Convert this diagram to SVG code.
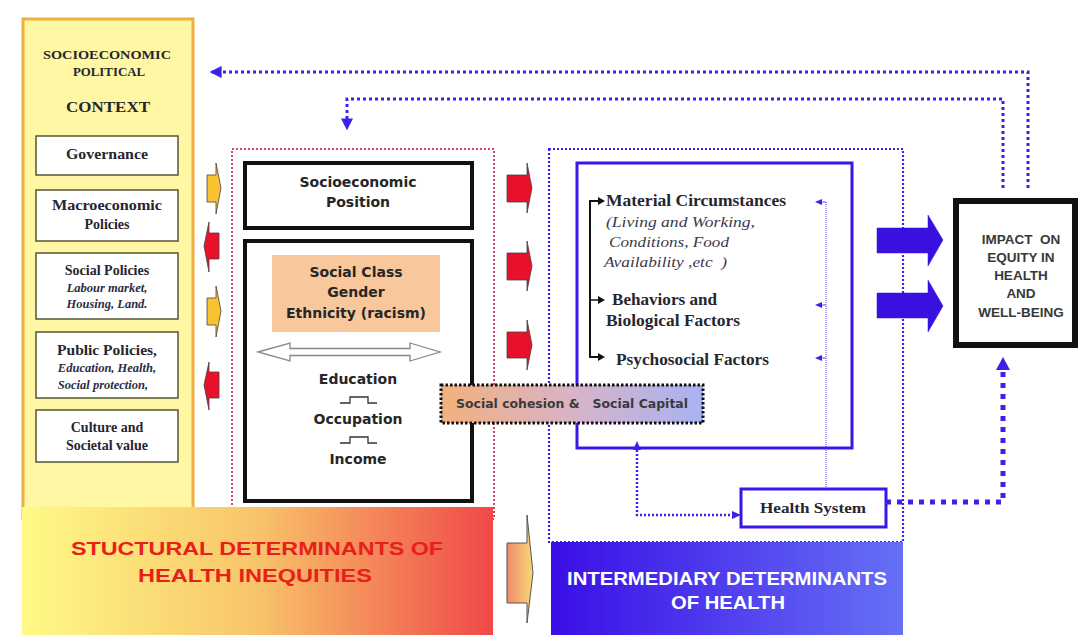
<svg xmlns="http://www.w3.org/2000/svg" width="1078" height="635" viewBox="0 0 1078 635">
<style>
.serif{font-family:"Liberation Serif","Times New Roman",serif;fill:#262630;font-weight:bold}
.ital{font-family:"Liberation Serif","Times New Roman",serif;fill:#2c2c44;font-style:italic;font-weight:bold}
.itn{font-family:"Liberation Serif","Times New Roman",serif;fill:#3a3a4a;font-style:italic;font-weight:normal}
.sans{font-family:"Liberation Sans",Arial,sans-serif;font-weight:bold;fill:#2a2a2a}
.dv{font-family:"DejaVu Sans",Verdana,sans-serif;font-weight:bold;fill:#262626}
.wbox{fill:#ffffff;stroke:#555533;stroke-width:1.5}
.blk{fill:#ffffff;stroke:#111;stroke-width:4}
.dotblue{fill:none;stroke:#3a22e6;stroke-width:2.2;stroke-dasharray:2 2}
.dotred{fill:none;stroke:#e0406a;stroke-width:2;stroke-dasharray:2 2}
.conn{fill:none;stroke:#3a22e6;stroke-width:3;stroke-dasharray:3 3}
.redarr{fill:#e8102a;stroke:#444;stroke-width:0.8}
.yelarr{fill:#f8c230;stroke:#444;stroke-width:0.8}
.bluarr{fill:#3a10e0;stroke:#3a10e0;stroke-width:0.5}
</style>
<defs>
<marker id="ah" viewBox="0 0 10 10" refX="8" refY="5" markerWidth="4" markerHeight="4" orient="auto" markerUnits="strokeWidth">
<path d="M0,0 L10,5 L0,10 z" fill="#3a22e6"/>
</marker>
<linearGradient id="gStruct" x1="0" y1="0" x2="1" y2="0">
<stop offset="0" stop-color="#fffa86"/>
<stop offset="0.5" stop-color="#f8c46a"/>
<stop offset="1" stop-color="#f04848"/>
</linearGradient>
<linearGradient id="gInter" x1="0" y1="0" x2="1" y2="0">
<stop offset="0" stop-color="#3a0ee6"/>
<stop offset="1" stop-color="#6670f6"/>
</linearGradient>
<linearGradient id="gCoh" x1="0" y1="0" x2="1" y2="0">
<stop offset="0" stop-color="#f2b07c"/>
<stop offset="0.5" stop-color="#d8b4c8"/>
<stop offset="1" stop-color="#a8b2f2"/>
</linearGradient>
<linearGradient id="gSmall" x1="0" y1="0" x2="1" y2="0">
<stop offset="0" stop-color="#ee8a6a"/>
<stop offset="1" stop-color="#f8d878"/>
</linearGradient>
</defs>

<rect x="0" y="0" width="1078" height="635" fill="#ffffff"/>

<!-- Context column -->
<g id="context">
<rect x="23" y="19" width="170" height="500" fill="#fff7a4" stroke="#f0b040" stroke-width="3"/>
<text class="serif" x="107" y="59" font-size="12.5" text-anchor="middle" textLength="128" lengthAdjust="spacingAndGlyphs">SOCIOECONOMIC</text>
<text class="serif" x="109" y="76" font-size="12.5" text-anchor="middle" textLength="72" lengthAdjust="spacingAndGlyphs">POLITICAL</text>
<text class="serif" x="108" y="112" font-size="15" text-anchor="middle" textLength="84" lengthAdjust="spacingAndGlyphs">CONTEXT</text>
</g>
<g id="governance">
<rect class="wbox" x="36" y="136" width="142" height="39"/>
<text class="serif" x="107" y="159" font-size="14" text-anchor="middle" textLength="82" lengthAdjust="spacingAndGlyphs">Governance</text>
</g>
<g id="macro">
<rect class="wbox" x="36" y="190" width="142" height="51"/>
<text class="serif" x="107" y="210" font-size="14" text-anchor="middle" textLength="110" lengthAdjust="spacingAndGlyphs">Macroeconomic</text>
<text class="serif" x="107" y="229" font-size="14" text-anchor="middle">Policies</text>
</g>
<g id="social-policies">
<rect class="wbox" x="36" y="253" width="142" height="66"/>
<text class="serif" x="107" y="275" font-size="14" text-anchor="middle">Social Policies</text>
<text class="ital" x="107" y="292" font-size="12.5" text-anchor="middle">Labour market,</text>
<text class="ital" x="107" y="308" font-size="12.5" text-anchor="middle">Housing, Land.</text>
</g>
<g id="public-policies">
<rect class="wbox" x="36" y="332" width="142" height="66"/>
<text class="serif" x="107" y="355" font-size="15.5" text-anchor="middle">Public Policies,</text>
<text class="ital" x="107" y="372" font-size="12.5" text-anchor="middle">Education, Health,</text>
<text class="ital" x="103" y="389" font-size="12.5" text-anchor="middle">Social protection,</text>
</g>
<g id="culture">
<rect class="wbox" x="36" y="410" width="142" height="52"/>
<text class="serif" x="107" y="432" font-size="14" text-anchor="middle">Culture and</text>
<text class="serif" x="107" y="450" font-size="14" text-anchor="middle">Societal value</text>
</g>

<!-- Structural dotted box -->
<g id="structural-frame">
<rect class="dotred" x="232" y="149" width="262" height="370"/>
</g>
<g id="sep">
<rect class="blk" x="245" y="163" width="227" height="65"/>
<text class="dv" x="358" y="187" font-size="14" text-anchor="middle">Socioeconomic</text>
<text class="dv" x="358" y="207" font-size="14" text-anchor="middle">Position</text>
</g>
<g id="class-box">
<rect class="blk" x="245" y="241" width="227" height="260"/>
<rect x="272" y="255" width="168" height="77" fill="#f8c89c"/>
<text class="dv" x="356" y="277" font-size="14" text-anchor="middle">Social Class</text>
<text class="dv" x="356" y="297" font-size="14" text-anchor="middle">Gender</text>
<text class="dv" x="356" y="318" font-size="14" text-anchor="middle">Ethnicity (racism)</text>
<path d="M258,352 L290,343 L290,348.5 L410,348.5 L410,343 L440,352 L410,361 L410,355.5 L290,355.5 L290,361 Z" fill="#ffffff" stroke="#888" stroke-width="1.3"/>
<text class="dv" x="358" y="384" font-size="14" text-anchor="middle">Education</text>
<path d="M340,403 L350,403 L350,397 L368,397 L368,403 L377,403" fill="none" stroke="#333" stroke-width="1.3"/>
<text class="dv" x="358" y="424" font-size="14" text-anchor="middle">Occupation</text>
<path d="M340,443 L350,443 L350,437 L368,437 L368,443 L377,443" fill="none" stroke="#333" stroke-width="1.3"/>
<text class="dv" x="358" y="464" font-size="14" text-anchor="middle">Income</text>
</g>

<!-- Intermediary frame -->
<g id="intermediary-frame">
<rect class="dotblue" x="549" y="149" width="354" height="393"/>
</g>
<g id="circumstances">
<rect x="577" y="163" width="275" height="285" fill="#ffffff" stroke="#3a16e8" stroke-width="3"/>
<path d="M598,201 L590,201 L590,357 L598,357" fill="none" stroke="#111" stroke-width="2"/>
<path d="M598,197 L605,201 L598,205 Z" fill="#111"/>
<path d="M598,296 L605,300 L598,304 Z" fill="#111"/>
<path d="M590,300 L598,300" stroke="#111" stroke-width="1.5"/>
<path d="M598,353 L605,357 L598,361 Z" fill="#111"/>
<text class="serif" x="606" y="206" font-size="16" textLength="180" lengthAdjust="spacingAndGlyphs">Material Circumstances</text>
<text class="itn" x="606" y="227" font-size="15.5" textLength="149" lengthAdjust="spacingAndGlyphs">(Living and Working,</text>
<text class="itn" x="609" y="247" font-size="15.5" textLength="120" lengthAdjust="spacingAndGlyphs">Conditions, Food</text>
<text class="itn" x="604" y="267" font-size="15.5" textLength="123" lengthAdjust="spacingAndGlyphs" xml:space="preserve">Availability ,etc  )</text>
<text class="serif" x="612" y="305" font-size="16" textLength="105" lengthAdjust="spacingAndGlyphs">Behaviors and</text>
<text class="serif" x="606" y="326" font-size="16" textLength="134" lengthAdjust="spacingAndGlyphs">Biological Factors</text>
<text class="serif" x="616" y="365" font-size="16" textLength="153" lengthAdjust="spacingAndGlyphs">Psychosocial Factors</text>
<path d="M826,202 L826,488" fill="none" stroke="#3a22e6" stroke-width="0.8" stroke-dasharray="1 1"/>
<path d="M826,202 L822,202 M826,305 L822,305 M826,358 L822,358" stroke="#3a22e6" stroke-width="0.8"/>
<path d="M822,199 L815,202 L822,205 Z" fill="#3a22e6"/>
<path d="M822,302 L815,305 L822,308 Z" fill="#3a22e6"/>
<path d="M822,355 L815,358 L822,361 Z" fill="#3a22e6"/>
</g>

<g id="cohesion">
<rect x="441" y="385" width="262" height="38" fill="url(#gCoh)" stroke="#111" stroke-width="3" stroke-dasharray="2.5 2"/>
<text class="dv" x="572" y="408" font-size="11.5" text-anchor="middle" style="fill:#3a3a3a" textLength="232" lengthAdjust="spacingAndGlyphs" xml:space="preserve">Social cohesion &amp;   Social Capital</text>
</g>

<g id="health-system">
<rect x="741" y="489" width="145" height="38" fill="#ffffff" stroke="#3a16e8" stroke-width="3"/>
<text class="serif" x="813" y="513" font-size="15.5" text-anchor="middle" textLength="106" lengthAdjust="spacingAndGlyphs">Health System</text>
</g>

<g id="impact">
<rect x="956" y="201" width="119" height="144" fill="#ffffff" stroke="#111" stroke-width="6"/>
<text class="sans" x="1021" y="244" font-size="13.5" text-anchor="middle" style="fill:#383838" xml:space="preserve">IMPACT  ON</text>
<text class="sans" x="1021" y="262" font-size="13.5" text-anchor="middle" style="fill:#383838">EQUITY IN</text>
<text class="sans" x="1021" y="280" font-size="13.5" text-anchor="middle" style="fill:#383838">HEALTH</text>
<text class="sans" x="1021" y="298" font-size="13.5" text-anchor="middle" style="fill:#383838">AND</text>
<text class="sans" x="1021" y="317" font-size="13.5" text-anchor="middle" style="fill:#383838">WELL-BEING</text>
</g>

<g id="structural-label">
<rect x="22" y="507" width="471" height="128" fill="url(#gStruct)"/>
<text class="sans" x="257" y="555" font-size="19" text-anchor="middle" style="fill:#e8201a" textLength="372" lengthAdjust="spacingAndGlyphs">STUCTURAL DETERMINANTS OF</text>
<text class="sans" x="255" y="582" font-size="19" text-anchor="middle" style="fill:#e8201a" textLength="234" lengthAdjust="spacingAndGlyphs">HEALTH INEQUITIES</text>
</g>

<g id="intermediary-label">
<rect x="551" y="542" width="352" height="93" fill="url(#gInter)"/>
<text class="sans" x="727" y="585" font-size="18" text-anchor="middle" style="fill:#ffffff" textLength="320" lengthAdjust="spacingAndGlyphs">INTERMEDIARY DETERMINANTS</text>
<text class="sans" x="728" y="609" font-size="18" text-anchor="middle" style="fill:#ffffff" textLength="114" lengthAdjust="spacingAndGlyphs">OF HEALTH</text>
</g>

<!-- Connectors -->
<g id="connectors">
<polygon class="yelarr" points="207,175 216,175 216,163 221,188 216,214 216,202 207,202"/>
<polygon class="redarr" points="219,233 209,233 209,222 204,246 209,272 209,259 219,259"/>
<polygon class="yelarr" points="207,298 216,298 216,286 221,311 216,337 216,325 207,325"/>
<polygon class="redarr" points="219,372 209,372 209,362 204,385 209,410 209,398 219,398"/>
<polygon class="redarr" points="507,175 527,175 527,163 532,188 527,213 527,202 507,202"/>
<polygon class="redarr" points="507,253 527,253 527,241 532,266 527,291 527,280 507,280"/>
<polygon class="redarr" points="507,332 527,332 527,320 532,345 527,370 527,358 507,358"/>
<polygon points="507,543 527,543 527,515 533,573 527,623 527,603 507,603" fill="url(#gSmall)" stroke="#555" stroke-width="1"/>
<polygon class="bluarr" points="877,228 928,228 928,215 943,240 928,266 928,253 877,253"/>
<polygon class="bluarr" points="877,293 928,293 928,280 943,306 928,332 928,318 877,318"/>
<path class="conn" d="M1028,188 L1028,72 L212,72" marker-end="url(#ah)"/>
<path class="conn" d="M1003,188 L1003,99 L347,99 L347,128" marker-end="url(#ah)"/>
<path d="M886,502 L1003,502 L1003,366" fill="none" stroke="#3a22e6" stroke-width="5" stroke-dasharray="5 6"/>
<path d="M996,370 L1003,357 L1010,370 Z" fill="#3a22e6"/>
<path d="M637,450 L637,515 L736,515" fill="none" stroke="#3a22e6" stroke-width="2.5" stroke-dasharray="2 2"/>
<path d="M633,450 L637,441 L641,450 Z" fill="#3a22e6"/>
<path d="M732,511 L741,515 L732,519 Z" fill="#3a22e6"/>
</g>
</svg>
